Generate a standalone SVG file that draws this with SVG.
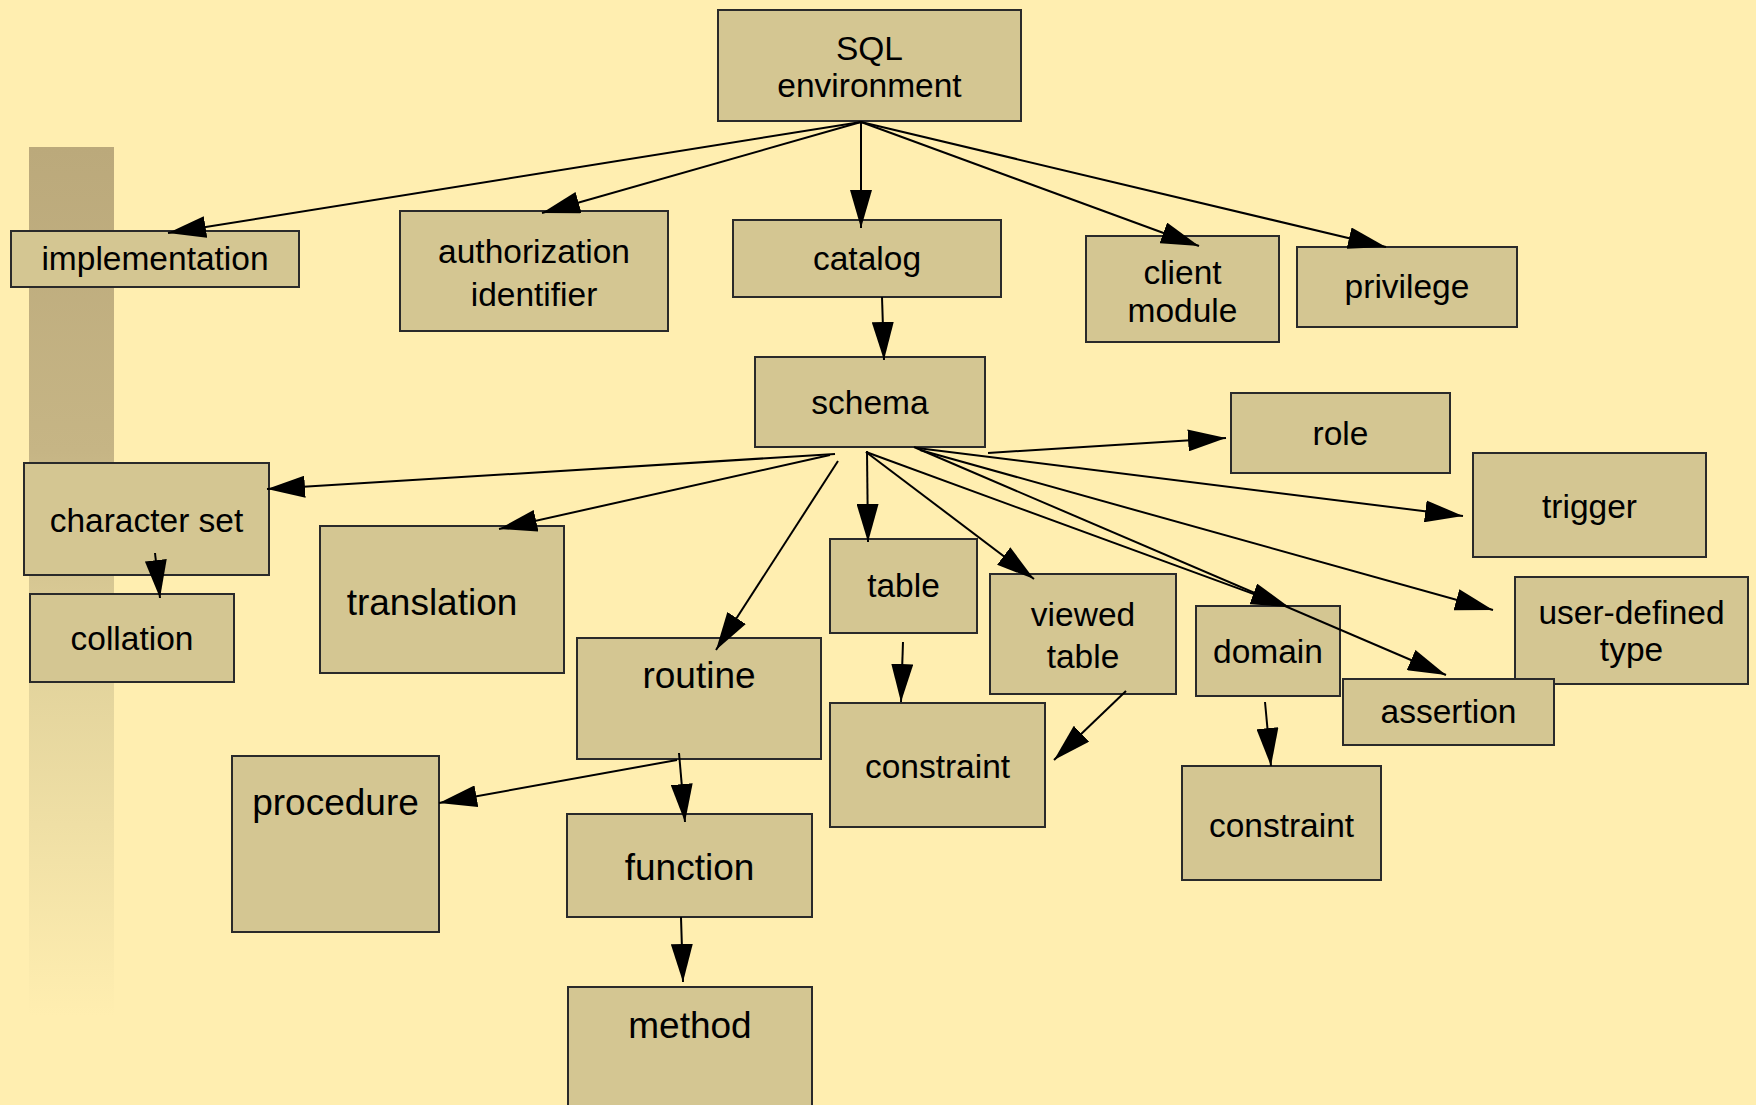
<svg xmlns="http://www.w3.org/2000/svg" width="1756" height="1105" viewBox="0 0 1756 1105">
<defs>
<linearGradient id="side" x1="0" y1="0" x2="0" y2="1">
<stop offset="0" stop-color="#bba97b"/>
<stop offset="0.35" stop-color="#c6b585"/>
<stop offset="0.6" stop-color="#e2d39c"/>
<stop offset="1" stop-color="#ffeeb0"/>
</linearGradient>
<marker id="ah" markerUnits="userSpaceOnUse" markerWidth="38" markerHeight="22" refX="38" refY="11" orient="auto">
<path d="M0,0 L38,11 L0,22 z" fill="#000"/>
</marker>
<style>
.n rect{fill:#d4c692;stroke:#2a2a2a;stroke-width:2}
.n text{font-family:"Liberation Sans",Arial,sans-serif;font-size:33.5px;fill:#000;text-anchor:middle}
.n text.b{font-size:37px}
#edges line{stroke:#000;stroke-width:2;marker-end:url(#ah)}
</style>
</defs>
<rect width="1756" height="1105" fill="#ffeeb0"/>
<rect x="29" y="147" width="85" height="870" fill="url(#side)"/>
<g id="sql-environment" class="n"><rect x="718" y="10" width="303" height="111"/><text x="869.5" y="60">SQL</text><text x="869.5" y="97">environment</text></g>
<g id="implementation" class="n"><rect x="11" y="231" width="288" height="56"/><text x="155" y="270">implementation</text></g>
<g id="authorization-identifier" class="n"><rect x="400" y="211" width="268" height="120"/><text x="534" y="263">authorization</text><text x="534" y="306">identifier</text></g>
<g id="catalog" class="n"><rect x="733" y="220" width="268" height="77"/><text x="867" y="270">catalog</text></g>
<g id="client-module" class="n"><rect x="1086" y="236" width="193" height="106"/><text x="1182.5" y="284">client</text><text x="1182.5" y="322">module</text></g>
<g id="privilege" class="n"><rect x="1297" y="247" width="220" height="80"/><text x="1407" y="298">privilege</text></g>
<g id="schema" class="n"><rect x="755" y="357" width="230" height="90"/><text x="870" y="414">schema</text></g>
<g id="role" class="n"><rect x="1231" y="393" width="219" height="80"/><text x="1340.5" y="445">role</text></g>
<g id="trigger" class="n"><rect x="1473" y="453" width="233" height="104"/><text x="1589.5" y="518">trigger</text></g>
<g id="character-set" class="n"><rect x="24" y="463" width="245" height="112"/><text x="146.5" y="532">character set</text></g>
<g id="collation" class="n"><rect x="30" y="594" width="204" height="88"/><text x="132" y="650">collation</text></g>
<g id="translation" class="n"><rect x="320" y="526" width="244" height="147"/><text class="b" x="432" y="615">translation</text></g>
<g id="table" class="n"><rect x="830" y="539" width="147" height="94"/><text x="903.5" y="597">table</text></g>
<g id="viewed-table" class="n"><rect x="990" y="574" width="186" height="120"/><text x="1083" y="626">viewed</text><text x="1083" y="668">table</text></g>
<g id="domain" class="n"><rect x="1196" y="606" width="144" height="90"/><text x="1268" y="663">domain</text></g>
<g id="user-defined-type" class="n"><rect x="1515" y="577" width="233" height="107"/><text x="1631.5" y="624">user-defined</text><text x="1631.5" y="661">type</text></g>
<g id="assertion" class="n"><rect x="1343" y="679" width="211" height="66"/><text x="1448.5" y="723">assertion</text></g>
<g id="routine" class="n"><rect x="577" y="638" width="244" height="121"/><text class="b" x="699" y="688">routine</text></g>
<g id="table-constraint" class="n"><rect x="830" y="703" width="215" height="124"/><text x="937.5" y="778">constraint</text></g>
<g id="domain-constraint" class="n"><rect x="1182" y="766" width="199" height="114"/><text x="1281.5" y="837">constraint</text></g>
<g id="procedure" class="n"><rect x="232" y="756" width="207" height="176"/><text class="b" x="335.5" y="815">procedure</text></g>
<g id="function" class="n"><rect x="567" y="814" width="245" height="103"/><text class="b" x="689.5" y="880">function</text></g>
<g id="method" class="n"><rect x="568" y="987" width="244" height="130"/><text class="b" x="690" y="1038">method</text></g>
<g id="edges">
<line x1="861" y1="122" x2="168" y2="233"/>
<line x1="861" y1="122" x2="542" y2="213"/>
<line x1="861" y1="122" x2="861" y2="228"/>
<line x1="861" y1="122" x2="1199" y2="246"/>
<line x1="861" y1="122" x2="1386" y2="247"/>
<line x1="882" y1="297" x2="884" y2="360"/>
<line x1="835" y1="454" x2="267" y2="489"/>
<line x1="830" y1="455" x2="499" y2="529"/>
<line x1="838" y1="461" x2="716" y2="650"/>
<line x1="867" y1="451" x2="868" y2="542"/>
<line x1="866" y1="452" x2="1034" y2="579"/>
<line x1="866" y1="452" x2="1289" y2="607"/>
<line x1="914" y1="447" x2="1446" y2="675"/>
<line x1="988" y1="453" x2="1226" y2="438"/>
<line x1="917" y1="448" x2="1463" y2="516"/>
<line x1="920" y1="450" x2="1493" y2="610"/>
<line x1="903" y1="642" x2="901" y2="702"/>
<line x1="1126" y1="691" x2="1054" y2="760"/>
<line x1="1265" y1="702" x2="1271" y2="766"/>
<line x1="155" y1="553" x2="160" y2="598"/>
<line x1="677" y1="760" x2="439" y2="803"/>
<line x1="679" y1="753" x2="685" y2="822"/>
<line x1="681" y1="917" x2="683" y2="982"/>
</g>
</svg>
